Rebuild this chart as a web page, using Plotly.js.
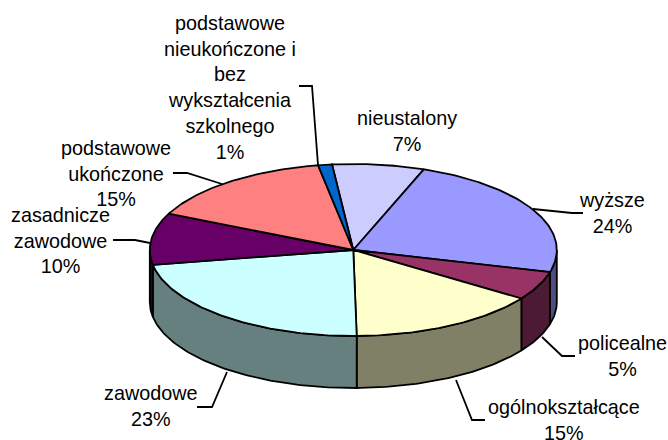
<!DOCTYPE html>
<html>
<head>
<meta charset="utf-8">
<script src="https://cdn.plot.ly/plotly-3.0.1.min.js"></script>
<style>html,body{margin:0;padding:0;background:#fff}#c{width:668px;height:440px}</style>
</head>
<body>
<div id="c"></div>
<script>
var categories = ['nieustalony','wyższe','policealne','ogólnokształcące','zawodowe','zasadnicze zawodowe','podstawowe ukończone','podstawowe nieukończone i bez wykształcenia szkolnego'];
var shares = [7.3,23.5,5.4,15.2,22.5,9.7,15.3,1.1];
var percentLabels = ['7%','24%','5%','15%','23%','10%','15%','1%'];
var topColors = ['#CCCCFF','#9999FF','#993366','#FFFFCC','#CCFFFF','#660066','#FF8080','#0066CC'];
var wallColors = ['#666680','#4D4D80','#4D1A33','#808066','#668080','#330033','#804040','#003366'];

var cx = 353.3, cy = 250, rx = 203.5, ry = 86, depth = 52, startDeg = -6;

function pt(deg, dy){
  var a = deg*Math.PI/180;
  return [cx + rx*Math.sin(a), cy - ry*Math.cos(a) + (dy||0)];
}
function arc(a0, a1, dy){
  var out = [], n = Math.max(2, Math.ceil(Math.abs(a1-a0)));
  for (var i=0;i<=n;i++) out.push(pt(a0+(a1-a0)*i/n, dy));
  return out;
}
function poly(points, color, name, w){
  var xs = points.map(function(p){return p[0];}), ys = points.map(function(p){return p[1];});
  return {type:'scatter',mode:'lines',x:xs,y:ys,fill:'toself',fillcolor:color,name:name,
          line:{color:'#000',width:w,shape:'linear'},hoverinfo:'name',showlegend:false};
}
var total = shares.reduce(function(a,b){return a+b;},0);
var edges = [startDeg];
shares.forEach(function(s){edges.push(edges[edges.length-1]+s/total*360);});

var walls = [], tops = [];
shares.forEach(function(s,i){
  var a0 = edges[i], a1 = edges[i+1];
  var w0 = Math.max(a0,90), w1 = Math.min(a1,270);
  if (w1 > w0){
    walls.push(poly(arc(w0,w1,0).concat(arc(w1,w0,depth)).concat([pt(w0,0)]), wallColors[i], categories[i], 1.8));
  }
  tops.push(poly([[cx,cy]].concat(arc(a0,a1,0)).concat([[cx,cy]]), topColors[i], categories[i], 1.8));
});

var labelSpec = [
  {t:'nieustalony', i:0, x:407, y:131},
  {t:'wyższe', i:1, x:612, y:213},
  {t:'policealne', i:2, x:622, y:356},
  {t:'ogólnokształcące', i:3, x:564, y:420},
  {t:'zawodowe', i:4, x:150, y:406},
  {t:'zasadnicze<br>zawodowe', i:5, x:60, y:240},
  {t:'podstawowe<br>ukończone', i:6, x:116, y:173},
  {t:'podstawowe<br>nieukończone i<br>bez<br>wykształcenia<br>szkolnego', i:7, x:230, y:87}
];
var annotations = labelSpec.map(function(l){
  return {xref:'x',yref:'y',x:l.x,y:l.y,xanchor:'center',yanchor:'middle',showarrow:false,align:'center',
          text:l.t+'<br>'+percentLabels[l.i],font:{family:'"Liberation Sans", Arial, sans-serif',size:19.8,color:'#000'}};
});
var leaderPaths = [
  'M299,86 L312,86 L318,165',
  'M173,173 L187,173 L222,184',
  'M113,240 L135,240 L150,243',
  'M197,407 L212,407 L227,372',
  'M485,420 L472,420 L456,380',
  'M575,356 L562,356 L542,337',
  'M533,209 L572,213 L583,213'
];
var shapes = leaderPaths.map(function(p){
  return {type:'path',path:p,xref:'x',yref:'y',line:{color:'#000',width:1.8},layer:'below'};
});
var layout = {
  width:668,height:440,margin:{l:0,r:0,t:0,b:0},paper_bgcolor:'#fff',plot_bgcolor:'#fff',showlegend:false,
  xaxis:{range:[0,668],visible:false,fixedrange:true},
  yaxis:{range:[440,0],visible:false,fixedrange:true},
  annotations:annotations,shapes:shapes
};
Plotly.newPlot('c', walls.concat(tops), layout, {displayModeBar:false,staticPlot:true});
</script>
</body>
</html>
